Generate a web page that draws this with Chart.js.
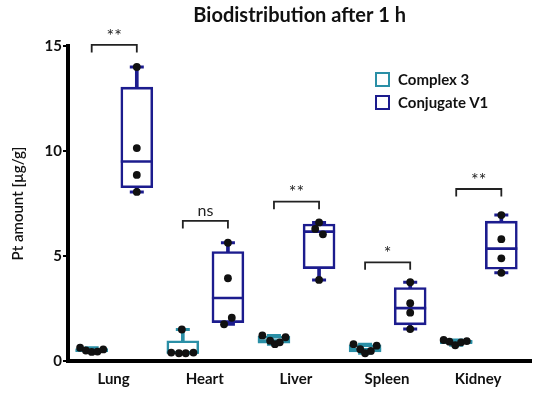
<!DOCTYPE html>
<html><head><meta charset="utf-8">
<script src="https://cdn.jsdelivr.net/npm/chart.js@4.4.0/dist/chart.umd.min.js"></script>
<style>
html,body{margin:0;padding:0;background:#fff;}
#wrap{position:relative;width:550px;height:393px;}
#legend{position:absolute;left:375px;top:68px;font-family:Lato,sans-serif;font-weight:bold;font-size:15px;color:#111;}
.item{display:flex;align-items:center;height:22.7px;}
.sw{box-sizing:border-box;width:15px;height:15px;border:2.6px solid;margin-right:8px;background:#fff;}
</style></head>
<body><div id="wrap"><canvas id="c" width="550" height="393"></canvas>
<div id="legend">
<div class="item"><span class="sw" style="border-color:#2a8fa6"></span>Complex 3</div>
<div class="item"><span class="sw" style="border-color:#1c1c8e"></span>Conjugate V1</div>
</div></div>
<script>
// ---- data ----
const categories = ['Lung', 'Heart', 'Liver', 'Spleen', 'Kidney'];
const seriesNames = ['Complex 3', 'Conjugate V1'];
// box statistics: [min, q1, median, q3, max]
const complexStats = [
  [0.43, 0.44, 0.50, 0.59, 0.63],
  [0.37, 0.37, 0.40, 0.96, 1.50],
  [0.80, 0.85, 0.97, 1.18, 1.22],
  [0.37, 0.43, 0.56, 0.77, 0.80],
  [0.75, 0.82, 0.92, 0.98, 1.00]
];
const conjugateStats = [
  [8.05, 8.25, 9.50, 13.04, 14.00],
  [1.75, 1.83, 3.00, 5.21, 5.63],
  [3.86, 4.40, 6.16, 6.52, 6.60],
  [1.52, 1.72, 2.52, 3.50, 3.75],
  [4.20, 4.37, 5.35, 6.66, 6.95]
];
// individual measurements
const complexPoints = [
  [0.63, 0.50, 0.43, 0.45, 0.55],
  [1.50, 0.40, 0.37, 0.37, 0.40],
  [1.22, 0.97, 0.80, 0.89, 1.13],
  [0.80, 0.56, 0.37, 0.48, 0.73],
  [1.00, 0.92, 0.75, 0.89, 0.95]
];
const conjugatePoints = [
  [14.00, 10.14, 8.86, 8.05],
  [5.63, 3.94, 2.06, 1.75],
  [6.60, 6.29, 6.03, 3.86],
  [3.75, 2.75, 2.30, 1.52],
  [6.95, 5.80, 4.89, 4.20]
];
const significance = ['**', 'ns', '**', '*', '**'];
const bracketLevels = [15.05, 6.67, 7.59, 4.70, 8.19];
const yTicks = [0, 5, 10, 15];

// ---- layout (positions / styles) ----
const TEAL = '#2a8fa6', NAVY = '#1c1c8e';
const OFF_C = -0.24, OFF_V = 0.255;
const PX = 94.4; // pixels per category unit (for jitter conversion)
const complexJitter = [
  [-12, -6, 0, 6, 12],
  [-1, -12, -4, 3, 11],
  [-12, -4, 1, 6, 12],
  [-12, -5, 0, 6, 12],
  [-13, -7, -1, 5, 11]
];
const conjugateJitter = [
  [0, 0, 0, 0],
  [0, 0, 4, -4],
  [0, -4, 4, 0],
  [0, 0, 0, 0],
  [0, 0, 0, 0]
];
const FONT = 'Lato, sans-serif';

function whiskers(stats, off, color) {
  return {type: 'bar', data: stats.map((s, i) => ({x: i + off, y: [s[0], s[4]]})),
    backgroundColor: color, barThickness: 3, grouped: false, order: 6};
}
function boxes(stats, off, color, label) {
  return {type: 'bar', label, data: stats.map((s, i) => ({x: i + off, y: [s[1], s[3]]})),
    backgroundColor: '#ffffff', borderColor: color, borderWidth: 2.6, borderSkipped: false,
    barThickness: 32, grouped: false, order: 5};
}
function medians(stats, off, color) {
  return {type: 'scatter', data: stats.map((s, i) => ({x: i + off, y: s[2]})),
    pointStyle: 'line', pointRadius: 16, pointBorderWidth: 2.6, borderColor: color, order: 4};
}
function caps(stats, off, color) {
  const d = [];
  stats.forEach((s, i) => { d.push({x: i + off, y: s[0]}); d.push({x: i + off, y: s[4]}); });
  return {type: 'scatter', data: d, pointStyle: 'line', pointRadius: 7, pointBorderWidth: 3,
    borderColor: color, order: 3};
}
function dots(points, jit, off) {
  const d = [];
  points.forEach((arr, i) => arr.forEach((v, j) => d.push({x: i + off + jit[i][j] / PX, y: v})));
  return {type: 'scatter', data: d, pointRadius: 3.9, backgroundColor: '#111', borderColor: '#111',
    pointBorderWidth: 0, order: 1};
}
function brackets() {
  return bracketLevels.map((h, i) => ({type: 'line', data: [
      {x: i + OFF_C, y: h - 0.36}, {x: i + OFF_C, y: h}, {x: i + OFF_V, y: h}, {x: i + OFF_V, y: h - 0.36}],
    borderColor: '#222', borderWidth: 1.8, pointRadius: 0, fill: false, clip: false, order: 2}));
}

const sigPlugin = {
  id: 'sig',
  afterDatasetsDraw(chart) {
    const {ctx, scales: {x, y}} = chart;
    ctx.save();
    ctx.fillStyle = '#222';
    ctx.textAlign = 'center';
    ctx.textBaseline = 'bottom';
    significance.forEach((t, i) => {
      const cx = x.getPixelForValue(i + (OFF_C + OFF_V) / 2);
      const cy = y.getPixelForValue(bracketLevels[i]) - (t === 'ns' ? 2 : 0);
      ctx.font = (t === 'ns' ? '16px ' : '18px ') + FONT;
      ctx.fillText(t, cx, cy);
    });
    ctx.restore();
  }
};

new Chart(document.getElementById('c'), {
  type: 'bar',
  data: {datasets: [
    whiskers(complexStats, OFF_C, TEAL), whiskers(conjugateStats, OFF_V, NAVY),
    boxes(complexStats, OFF_C, TEAL, seriesNames[0]), boxes(conjugateStats, OFF_V, NAVY, seriesNames[1]),
    medians(complexStats, OFF_C, TEAL), medians(conjugateStats, OFF_V, NAVY),
    caps(complexStats, OFF_C, TEAL), caps(conjugateStats, OFF_V, NAVY),
    dots(complexPoints, complexJitter, OFF_C), dots(conjugatePoints, conjugateJitter, OFF_V),
    ...brackets()
  ]},
  options: {
    responsive: false,
    animation: false,
    events: [],
    layout: {padding: {left: 0, right: 2, top: 0, bottom: 0}},
    plugins: {
      legend: {display: false},
      tooltip: {enabled: false},
      title: {display: true, text: 'Biodistribution after 1 h', fullSize: false, color: '#111',
        font: {family: FONT, size: 20, weight: 'bold'}, padding: {top: 4, bottom: 18}}
    },
    scales: {
      x: {
        type: 'linear', min: -0.5, max: 4.585, offset: false,
        afterBuildTicks: s => { s.ticks = categories.map((c, i) => ({value: i})); },
        afterFit: s => { s.height = 32; },
        grid: {display: false, drawTicks: false},
        border: {display: true, color: '#000', width: 4},
        ticks: {color: '#111', padding: 9, font: {family: FONT, size: 15, weight: 'bold'},
          callback: v => categories[v]}
      },
      y: {
        min: 0, max: 15,
        afterBuildTicks: s => { s.ticks = yTicks.map(v => ({value: v})); },
        afterFit: s => { s.width = 68; },
        grid: {display: true, drawOnChartArea: false, drawTicks: true, tickLength: 5, color: '#000', lineWidth: 2},
        border: {display: true, color: '#000', width: 4},
        ticks: {color: '#111', padding: 1, font: {family: FONT, size: 15, weight: 'bold'}},
        title: {display: true, text: 'Pt amount [µg/g]', color: '#111',
          font: {family: FONT, size: 15, weight: '600'}, padding: {top: 9, bottom: 0}}
      }
    }
  },
  plugins: [sigPlugin]
});
</script></body></html>
